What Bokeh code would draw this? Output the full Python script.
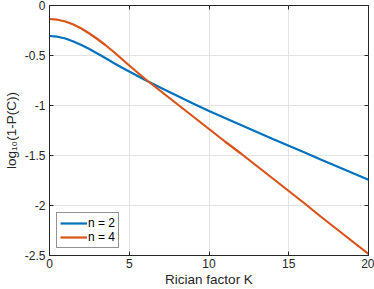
from bokeh.plotting import figure
from bokeh.models import LinearAxis, FixedTicker, Legend, LegendItem
from bokeh.embed import file_html
from bokeh.resources import INLINE

K = [0, 0.5, 1, 1.5, 2, 2.5, 3, 3.5, 4, 4.5, 5, 6, 7, 8, 9, 10,
     11, 12, 13, 14, 15, 16, 17, 18, 19, 20]
n2 = [-0.305, -0.312, -0.33, -0.36, -0.395, -0.435, -0.48, -0.525, -0.572, -0.617, -0.66,
      -0.745, -0.825, -0.903, -0.98, -1.055, -1.125, -1.195, -1.265, -1.335, -1.403,
      -1.47, -1.54, -1.607, -1.675, -1.743]
n4 = [-0.135, -0.142, -0.16, -0.19, -0.23, -0.28, -0.335, -0.395, -0.46, -0.53, -0.6,
      -0.735, -0.86, -0.985, -1.11, -1.235, -1.36, -1.48, -1.605, -1.73, -1.855,
      -1.98, -2.11, -2.235, -2.36, -2.485]
labels = ["n = 2", "n = 4"]
colors = ["#0072BD", "#D95319"]
xticks = [0, 5, 10, 15, 20]
yticks = [0, -0.5, -1, -1.5, -2, -2.5]
ytick_labels = ["0", "-0.5", "-1", "-1.5", "-2", "-2.5"]

FONT = "Liberation Sans"
AX = "#262626"

p = figure(width=374, height=289, output_backend="svg", toolbar_location=None,
           x_range=(0, 20), y_range=(-2.5, 0),
           min_border_left=48, min_border_right=6, min_border_top=5, min_border_bottom=34)
p.background_fill_color = "white"
p.border_fill_color = "white"
p.outline_line_color = AX
p.outline_line_width = 1

r1 = p.line(K, n2, line_color=colors[0], line_width=2.2)
r2 = p.line(K, n4, line_color=colors[1], line_width=2.2)

p.xaxis.ticker = FixedTicker(ticks=xticks)
p.yaxis.ticker = FixedTicker(ticks=yticks)
p.yaxis.major_label_overrides = {v: s for v, s in zip(yticks, ytick_labels)}
for ax in (p.xaxis[0], p.yaxis[0]):
    ax.major_tick_in = 4
    ax.major_tick_out = 0
    ax.minor_tick_in = 0
    ax.minor_tick_out = 0
    ax.axis_line_color = AX
    ax.major_tick_line_color = AX
    ax.major_label_text_font = FONT
    ax.major_label_text_font_size = "12px"
    ax.major_label_text_color = AX
    ax.axis_label_text_font = FONT
    ax.axis_label_text_font_size = "13.5px"
    ax.axis_label_text_font_style = "normal"
    ax.axis_label_text_color = AX
p.xaxis.major_label_standoff = 3
p.yaxis.major_label_standoff = 4
p.xaxis.axis_label = "Rician factor K"
p.xaxis.axis_label_standoff = 1
p.yaxis.axis_label = "log\u2081\u2080(1-P(C))"
p.yaxis.axis_label_standoff = 3

# mirrored ticks on top and right (MATLAB box style), no labels
ra = LinearAxis(ticker=FixedTicker(ticks=yticks))
ta = LinearAxis(ticker=FixedTicker(ticks=xticks))
for ax, tks in ((ra, yticks), (ta, xticks)):
    ax.major_tick_in = 4
    ax.major_tick_out = 0
    ax.minor_tick_in = 0
    ax.minor_tick_out = 0
    ax.axis_line_color = None
    ax.major_tick_line_color = AX
    ax.major_label_overrides = {v: "" for v in tks}
    ax.major_label_standoff = 0
p.add_layout(ra, "right")
p.add_layout(ta, "above")

p.xgrid.ticker = FixedTicker(ticks=xticks)
p.ygrid.ticker = FixedTicker(ticks=yticks)
p.grid.grid_line_color = "#e3e3e3"
p.grid.grid_line_width = 1

legend = Legend(items=[LegendItem(label=labels[0], renderers=[r1]),
                       LegendItem(label=labels[1], renderers=[r2])],
                location="bottom_left")
legend.border_line_color = AX
legend.border_line_width = 1
legend.background_fill_color = "white"
legend.background_fill_alpha = 1
legend.label_text_font = FONT
legend.label_text_font_size = "12px"
legend.label_text_color = "black"
legend.glyph_width = 27
legend.glyph_height = 14
legend.label_height = 14
legend.label_standoff = 1
legend.padding = 3
legend.spacing = 0
legend.margin = 7
p.add_layout(legend, "center")

open("out.html", "w").write(file_html(p, INLINE))
